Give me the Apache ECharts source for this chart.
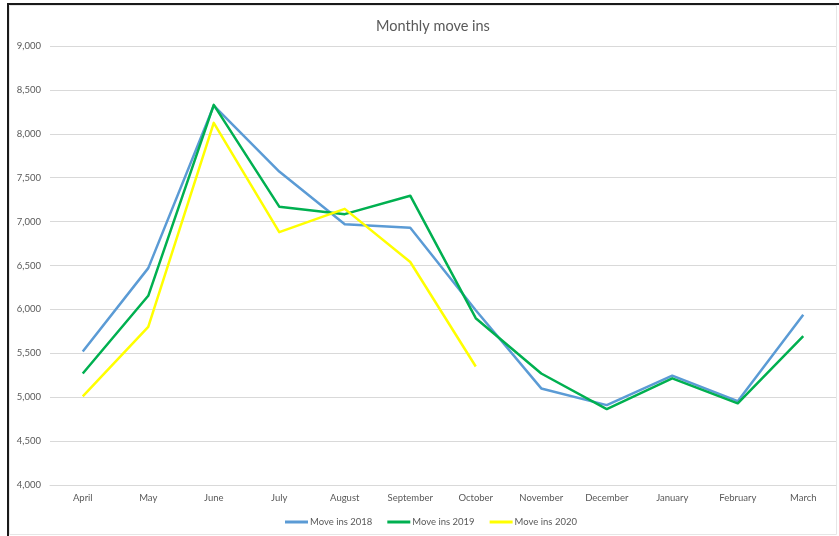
<!DOCTYPE html>
<html>
<head>
<meta charset="utf-8">
<style>
  html, body { margin: 0; padding: 0; background: #ffffff; }
  #chart { width: 839px; height: 536px; }
</style>
<script src="https://cdn.jsdelivr.net/npm/echarts@6/dist/echarts.min.js"></script>
</head>
<body>
<div id="chart"></div>
<script>
// Financial-year months, April to March
const months = ['April', 'May', 'June', 'July', 'August', 'September', 'October',
                'November', 'December', 'January', 'February', 'March'];

// Monthly move ins per year
const moveIns2018 = [5520, 6470, 8320, 7570, 6970, 6930, 5990, 5100, 4910, 5245, 4955, 5940];
const moveIns2019 = [5270, 6155, 8330, 7170, 7085, 7295, 5900, 5270, 4865, 5215, 4930, 5695];
const moveIns2020 = [5010, 5800, 8125, 6880, 7145, 6540, 5350, null, null, null, null, null];

const seriesNames = ['Move ins 2018', 'Move ins 2019', 'Move ins 2020'];
const seriesColors = ['#5B9BD5', '#00B050', '#FFFF00'];

const font = 'Lato, "Open Sans", sans-serif';
const textGrey = '#595959';

const chart = echarts.init(document.getElementById('chart'), null, { renderer: 'canvas' });

function lineSeries(name, data, color) {
  return {
    name: name,
    type: 'line',
    data: data,
    symbol: 'none',
    showSymbol: false,
    connectNulls: false,
    lineStyle: { color: color, width: 2.5, join: 'round' },
    itemStyle: { color: color },
    emphasis: { disabled: true }
  };
}

chart.setOption({
  animation: false,
  backgroundColor: '#ffffff',
  textStyle: { fontFamily: font },
  title: {
    text: 'Monthly move ins',
    left: 428,
    top: 14,
    textAlign: 'center',
    textStyle: { fontFamily: font, fontSize: 14.5, fontWeight: 'normal', color: textGrey }
  },
  grid: { left: 50, right: 3, top: 46, bottom: 51, containLabel: false },
  legend: {
    data: seriesNames,
    bottom: 9,
    left: 285,
    padding: 0,
    icon: 'rect',
    itemWidth: 23,
    itemHeight: 3,
    itemGap: 15,
    textStyle: { fontFamily: font, fontSize: 9.5, color: textGrey, padding: [0, 0, 0, -3] }
  },
  xAxis: {
    type: 'category',
    data: months,
    boundaryGap: true,
    axisLine: { show: true, lineStyle: { color: '#D9D9D9', width: 1 } },
    axisTick: { show: false },
    axisLabel: { fontFamily: font, fontSize: 9.5, color: textGrey, margin: 8 }
  },
  yAxis: {
    type: 'value',
    min: 4000,
    max: 9000,
    interval: 500,
    axisLine: { show: false },
    axisTick: { show: false },
    splitLine: { lineStyle: { color: '#D9D9D9', width: 1 } },
    axisLabel: {
      fontFamily: font, fontSize: 9.5, color: textGrey, margin: 9,
      formatter: v => v.toLocaleString('en-US')
    }
  },
  graphic: [
    // light outline of the chart area
    { type: 'rect', silent: true, z: -1,
      shape: { x: 9.5, y: 5.5, width: 827, height: 529 },
      style: { fill: 'none', stroke: '#E6E6E6', lineWidth: 1 } },
    // dark frame on the left and top
    { type: 'line', silent: true,
      shape: { x1: 8, y1: 3, x2: 8, y2: 536 },
      style: { stroke: '#1a1a1a', lineWidth: 2 } },
    { type: 'line', silent: true,
      shape: { x1: 7, y1: 4, x2: 839, y2: 4 },
      style: { stroke: '#1a1a1a', lineWidth: 2 } }
  ],
  series: [
    lineSeries(seriesNames[0], moveIns2018, seriesColors[0]),
    lineSeries(seriesNames[1], moveIns2019, seriesColors[1]),
    lineSeries(seriesNames[2], moveIns2020, seriesColors[2])
  ]
});
</script>
</body>
</html>
